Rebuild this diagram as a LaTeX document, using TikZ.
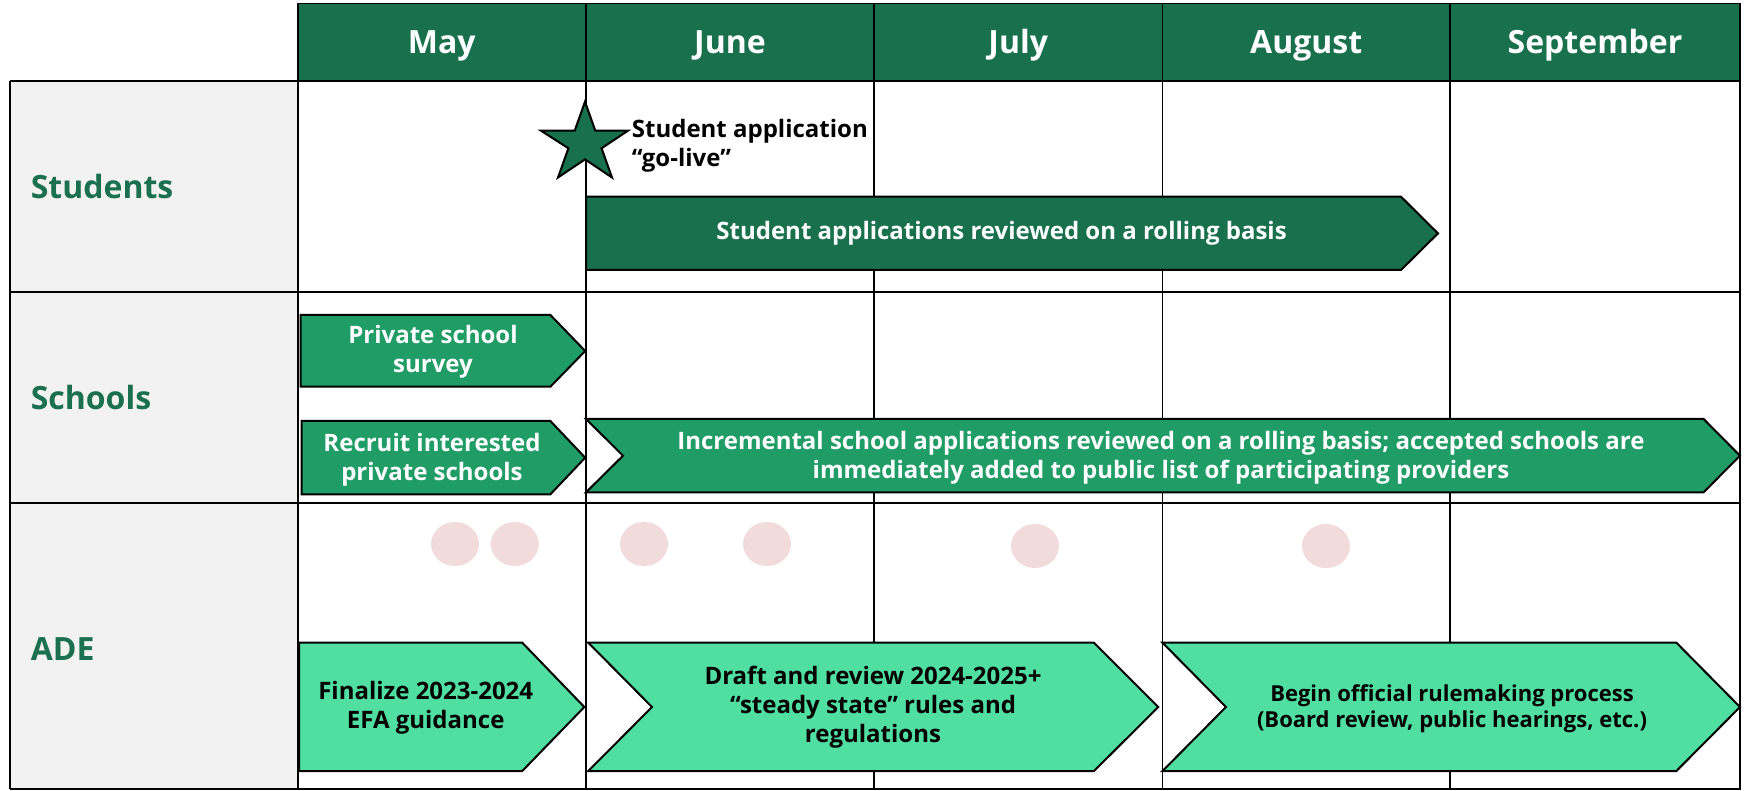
\documentclass[tikz,border=0pt]{standalone}
\usepackage{fontspec}
\setmainfont{Open Sans}
\definecolor{darkg}{HTML}{18704C}
\definecolor{midg}{HTML}{209C66}
\definecolor{lightg}{HTML}{50DFA1}
\definecolor{labelg}{HTML}{1A7050}
\definecolor{graybg}{HTML}{F2F2F2}
\definecolor{pinkc}{HTML}{F2DCDB}
\begin{document}
\begin{tikzpicture}[x=1pt,y=-1pt,
  gridline/.style={draw=black,line width=1.8pt},
  barline/.style={draw=black,line width=2pt,line join=miter},
  hdrtext/.style={text=white,font=\bfseries\fontsize{32}{36}\selectfont,anchor=base,inner sep=0pt},
  rowlabel/.style={text=labelg,font=\bfseries\fontsize{32}{38}\selectfont,anchor=base west,inner sep=0pt},
  whitetext/.style={text=white,align=center,font=\bfseries\fontsize{24}{29}\selectfont,inner sep=0pt},
  blacktext/.style={text=black,align=center,font=\bfseries\fontsize{24}{29}\selectfont,inner sep=0pt}]
\useasboundingbox (0,0) rectangle (1746,791);
% backgrounds
\fill[graybg] (10,81) rectangle (297.7,789);
\fill[darkg] (297.7,3.5) rectangle (1740,81);
% grid
\draw[gridline] (297.7,3.5) rectangle (1740,789);
\draw[gridline] (10,81) -- (1740,81);
\draw[gridline] (10,292) -- (1740,292);
\draw[gridline] (10,503) -- (1740,503);
\draw[gridline] (10,789) -- (1740,789);
\draw[gridline] (10,81) -- (10,789);
\foreach \xx in {586,874,1162.5,1450} \draw[gridline] (\xx,3.5) -- (\xx,789);
% header texts
\node[hdrtext] (may) at (441.8,54) {May};
\node[hdrtext] (jun) at (730,54) {June};
\node[hdrtext] (jul) at (1018.2,54) {July};
\node[hdrtext] (aug) at (1306.2,54) {August};
\node[hdrtext] (sep) at (1595,54) {September};
% row labels
\node[rowlabel] (students) at (30.6,198.3) {Students};
\node[rowlabel] (schools) at (30.6,409.3) {Schools};
\node[rowlabel] (ade) at (30.6,660) {ADE};
% star
\draw[barline,fill=darkg] (585,101.7) -- (595.3,130.7) -- (628,130.7) -- (601.6,148.3) -- (612,177.5)
  -- (585,159.4) -- (558,177.5) -- (568.4,148.3) -- (541,130.7) -- (574.7,130.7) -- cycle;
\node[blacktext,align=left,anchor=west] (golive) at (631.7,146) {Student application\\“go-live”};
% students bar
\draw[barline,fill=darkg] (586,196.7) -- (1401,196.7) -- (1438,233.4) -- (1401,270) -- (586,270) -- cycle;
\node[whitetext] (stubar) at (1001.6,233.5) {Student applications reviewed on a rolling basis};
% schools bars
\draw[barline,fill=midg] (300.5,315) -- (550.4,315) -- (585.2,351) -- (550.4,386.7) -- (300.5,386.7) -- cycle;
\node[whitetext] (survey) at (433,352) {Private school\\survey};
\draw[barline,fill=midg] (301.7,421) -- (550.4,421) -- (585.2,457.7) -- (550.4,494.3) -- (301.7,494.3) -- cycle;
\node[whitetext] (recruit) at (432,459.4) {Recruit interested\\private schools};
\draw[barline,fill=midg] (586,419) -- (1703.6,419) -- (1740,455.7) -- (1703.6,492.3) -- (586,492.3) -- (623,455.7) -- cycle;
\node[whitetext] (incr) at (1161,457.5) {Incremental school applications reviewed on a rolling basis; accepted schools are\\immediately added to public list of participating providers};
% ADE dots
\foreach \xx/\yy in {455/544,514.8/544,644/544,767/544,1035/546,1326/546} \fill[pinkc] (\xx,\yy) ellipse [x radius=24,y radius=22];
% ADE bars
\draw[barline,fill=lightg] (299,642.7) -- (522.3,642.7) -- (584.3,707) -- (522.3,771) -- (299,771) -- cycle;
\node[blacktext] (finalize) at (425.7,708) {Finalize 2023-2024\\EFA guidance};
\draw[barline,fill=lightg] (588.3,642.7) -- (1094,642.7) -- (1158.3,707) -- (1094,771) -- (588.3,771) -- (652,707) -- cycle;
\node[blacktext] (draft) at (873,707.5) {Draft and review 2024-2025+\\“steady state” rules and\\regulations};
\draw[barline,fill=lightg] (1162.5,642.7) -- (1676.4,642.7) -- (1740,707) -- (1676.4,771) -- (1162.5,771) -- (1226,707) -- cycle;
\node[blacktext,font=\bfseries\fontsize{22}{26}\selectfont] (begin) at (1452,709) {Begin official rulemaking process\\(Board review, public hearings, etc.)};
\end{tikzpicture}
\end{document}
